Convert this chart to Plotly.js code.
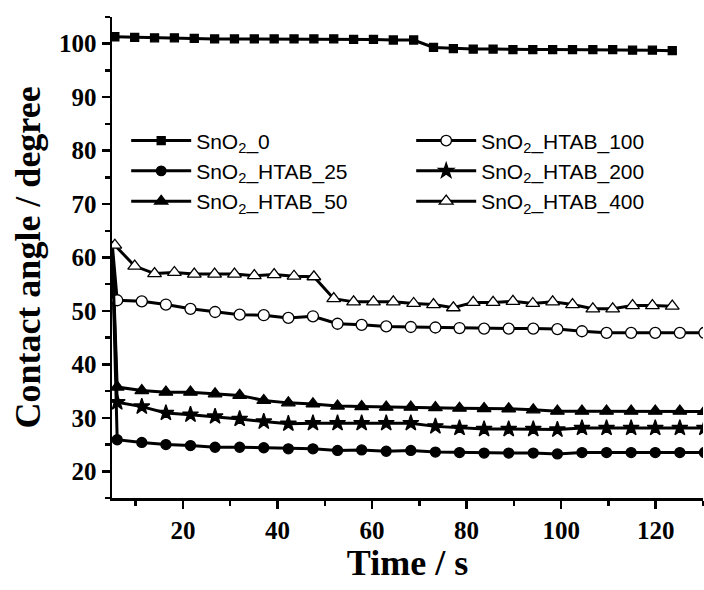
<!DOCTYPE html>
<html>
<head>
<meta charset="utf-8">
<script src="https://cdn.plot.ly/plotly-3.0.1.min.js"></script>
<style>html,body{margin:0;padding:0;background:#fff;}#chart{width:704px;height:590px;}</style>
</head>
<body>
<div id="chart"></div>
<script>
// Time axis (s)
const timeA = [5.6, 9.8, 14.0, 18.2, 22.4, 26.7, 30.9, 35.1, 39.3, 43.5, 47.7, 51.9, 56.1, 60.3, 64.5, 68.8, 73.0, 77.2, 81.4, 85.6, 89.8, 94.0, 98.2, 102.4, 106.7, 110.9, 115.1, 119.3, 123.5];
const timeB = [5.0, 6.1, 11.3, 16.4, 21.6, 26.8, 32.0, 37.1, 42.3, 47.5, 52.7, 57.8, 63.0, 68.2, 73.4, 78.5, 83.7, 88.9, 94.1, 99.2, 104.4, 109.6, 114.8, 119.9, 125.1, 130.3];

// Contact angle (degree)
const sno2_0 = [101.3, 101.2, 101.1, 101.1, 101.0, 100.9, 100.9, 100.9, 100.9, 100.9, 100.9, 100.9, 100.8, 100.8, 100.7, 100.7, 99.3, 99.1, 99.0, 99.0, 98.9, 98.9, 98.9, 98.9, 98.9, 98.9, 98.8, 98.8, 98.7];
const htab_25 = [63, 25.9, 25.4, 25.0, 24.8, 24.5, 24.5, 24.4, 24.2, 24.2, 23.9, 24.0, 23.75, 23.9, 23.6, 23.5, 23.4, 23.4, 23.4, 23.25, 23.5, 23.5, 23.5, 23.5, 23.5, 23.5];
const htab_50 = [63, 35.75, 35.1, 34.8, 34.8, 34.5, 34.2, 33.25, 32.8, 32.6, 32.2, 32.1, 32.0, 32.0, 31.9, 31.8, 31.75, 31.7, 31.5, 31.25, 31.25, 31.25, 31.25, 31.25, 31.25, 31.2];
const htab_100 = [63, 52.0, 51.8, 51.2, 50.4, 49.8, 49.3, 49.2, 48.7, 49.0, 47.6, 47.4, 47.1, 47.0, 46.9, 46.8, 46.7, 46.7, 46.7, 46.6, 46.2, 45.9, 45.9, 45.9, 45.9, 45.9];
const htab_200 = [63, 32.9, 32.1, 30.9, 30.6, 30.25, 29.8, 29.3, 28.9, 29.0, 29.0, 29.0, 29.0, 29.0, 28.4, 28.1, 27.9, 27.9, 27.9, 27.8, 28.1, 28.1, 28.1, 28.1, 28.1, 28.1];
const htab_400 = [62.3, 58.4, 57.0, 57.2, 56.9, 56.9, 56.9, 56.6, 56.8, 56.5, 56.4, 52.3, 51.7, 51.7, 51.7, 51.4, 51.2, 50.6, 51.6, 51.6, 51.8, 51.4, 51.7, 51.2, 50.4, 50.4, 51.0, 51.0, 50.9];

const names = ['SnO<sub>2</sub>_0', 'SnO<sub>2</sub>_HTAB_25', 'SnO<sub>2</sub>_HTAB_50', 'SnO<sub>2</sub>_HTAB_100', 'SnO<sub>2</sub>_HTAB_200', 'SnO<sub>2</sub>_HTAB_400'];
const xTicks = [20, 40, 60, 80, 100, 120];
const yTicks = [20, 30, 40, 50, 60, 70, 80, 90, 100];

// leadIn: first point is the initial drop reading at the axis edge (marker hidden)
function tr(x, y, name, symbol, size, fill, rank, leadIn) {
  const sizes = y.map((v, i) => (leadIn && i === 0) ? 0 : size);
  return {
    x: x, y: y, name: name, type: 'scatter', mode: 'lines+markers',
    line: {color: '#000', width: 3},
    marker: {symbol: symbol, size: sizes, color: fill, opacity: 1, line: {color: '#000', width: 1.3}},
    legendrank: rank, cliponaxis: true
  };
}

const data = [
  tr(timeA, sno2_0, names[0], 'square', 8, '#000', 1, false),
  tr(timeB, htab_25, names[1], 'circle', 10, '#000', 3, true),
  tr(timeB, htab_50, names[2], 'triangle-up', 12, '#000', 5, true),
  tr(timeB, htab_100, names[3], 'circle', 11, '#fff', 2, true),
  tr(timeB, htab_200, names[4], 'star', 12, '#000', 4, true),
  tr(timeA, htab_400, names[5], 'triangle-up', 12, '#fff', 6, false)
];

const serif = 'Liberation Serif, Times New Roman, serif';
const tickFont = {family: serif, size: 25, color: '#000'};
const titleFont = {family: serif, size: 36, color: '#000'};
const bold = v => '<b>' + v + '</b>';

const layout = {
  width: 704, height: 590,
  margin: {l: 112, r: 1, t: 17, b: 92},
  paper_bgcolor: '#fff', plot_bgcolor: '#fff',
  showlegend: true,
  legend: {
    orientation: 'h', x: 0.024, y: 0.785, xanchor: 'left', yanchor: 'top',
    entrywidth: 210, entrywidthmode: 'pixels', itemwidth: 60,
    font: {family: 'Liberation Sans, Arial, sans-serif', size: 21, color: '#000'},
    bgcolor: 'rgba(0,0,0,0)', traceorder: 'normal'
  },
  xaxis: {
    range: [5, 130], tickmode: 'array', tickvals: xTicks, ticktext: xTicks.map(bold),
    showgrid: false, zeroline: false,
    showline: true, linecolor: '#000', linewidth: 2.5,
    ticks: 'outside', ticklen: 8, tickwidth: 2.5, tickcolor: '#000',
    minor: {dtick: 10, tick0: 0, ticks: 'outside', ticklen: 5, tickwidth: 2.5, tickcolor: '#000', showgrid: false},
    tickfont: tickFont,
    title: {text: '<b>Time / s</b>', font: titleFont, standoff: 8}
  },
  yaxis: {
    range: [15, 105], tickmode: 'array', tickvals: yTicks, ticktext: yTicks.map(bold),
    showgrid: false, zeroline: false,
    showline: true, linecolor: '#000', linewidth: 2.5,
    ticks: 'outside', ticklen: 8, tickwidth: 2.5, tickcolor: '#000',
    minor: {dtick: 5, tick0: 0, ticks: 'outside', ticklen: 5, tickwidth: 2.5, tickcolor: '#000', showgrid: false},
    tickfont: tickFont,
    title: {text: '<b>Contact angle / degree</b>', font: titleFont, standoff: 8}
  }
};

Plotly.newPlot('chart', data, layout, {staticPlot: true, displayModeBar: false});
</script>
</body>
</html>
